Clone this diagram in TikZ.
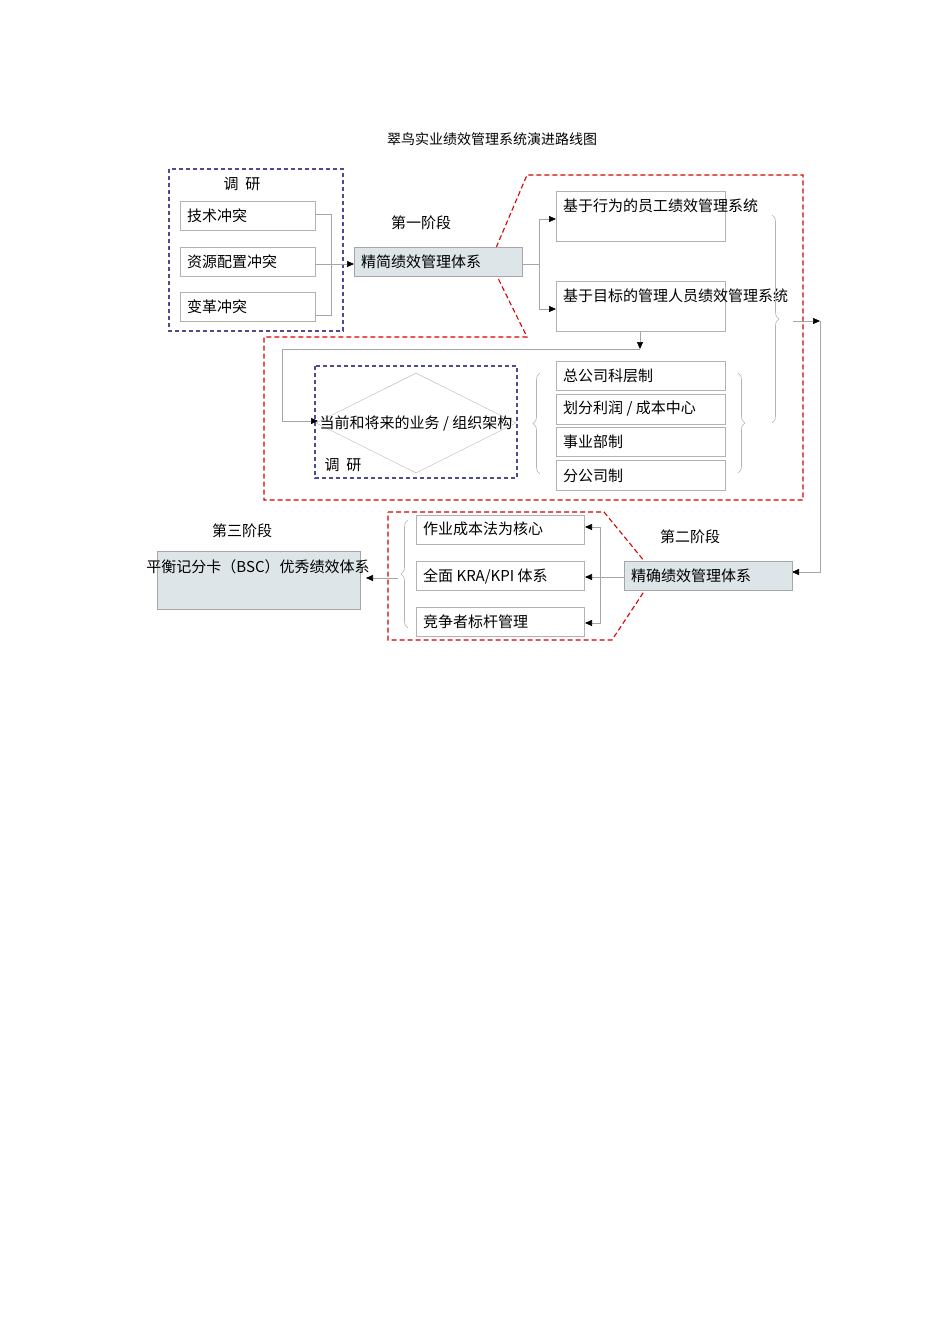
\documentclass[tikz,border=0pt]{standalone}
\usepackage{fontspec}
\setmainfont{Noto Sans CJK SC}
\usetikzlibrary{arrows.meta,decorations.pathreplacing,shapes.geometric}
\begin{document}
\begin{tikzpicture}[x=1pt,y=-1pt,
  txt/.style={font=\fontsize{15}{18}\selectfont,inner sep=0pt},
  gbox/.style={draw=gray!60,line width=0.6pt},
  stagebox/.style={draw=gray!70,fill=cyan!20!gray!25,line width=0.6pt},
  bluedash/.style={draw=blue!40!black!70,dashed,line width=1.1pt,dash pattern=on 4pt off 3pt},
  reddash/.style={draw=red!85!black,line width=1.1pt,dash pattern=on 5pt off 3pt},
  conn/.style={draw=gray!70,line width=0.6pt},
  arr/.style={conn,-{Triangle[length=7pt,width=6pt,fill=black,color=black]}},
  brc/.style={draw=gray!60,line width=0.6pt,decorate,decoration={brace,amplitude=7pt}}]
\useasboundingbox (0,0) rectangle (950,1344);
\node[font=\fontsize{14}{16}\selectfont] (title) at (492,139) {翠鸟实业绩效管理系统演进路线图};
% research box 1
\draw[bluedash] (169,169) rectangle (343,331);
\node[txt] (dy1) at (242,184) {调\ \ 研};
\draw[gbox] (180,201) rectangle (315,230); \node[txt,anchor=west] (a1) at (187,216) {技术冲突};
\draw[gbox] (180,247) rectangle (315,276); \node[txt,anchor=west] (a2) at (187,262) {资源配置冲突};
\draw[gbox] (180,292) rectangle (315,321); \node[txt,anchor=west] (a3) at (187,307) {变革冲突};
\draw[conn] (315,214) -- (331,214) -- (331,315) -- (315,315);
% stage 1
\draw[reddash] (490,262) -- (527,175) -- (803,175) -- (803,500) -- (264,500) -- (264,337) -- (527,337) -- cycle;
\draw[stagebox] (354,247) rectangle (522,276);
\node[txt,anchor=west] (s1) at (361,262) {精简绩效管理体系};
\coordinate (s1w) at (354,264);
\coordinate (s1e) at (522,264);
\draw[arr] (315,264) -- (s1w);
\node[txt] (st1) at (421,223) {第一阶段};
\draw[gbox] (556,191) rectangle (725,241); \node[txt,anchor=west] (b1) at (563,206) {基于行为的员工绩效管理系统};
\draw[gbox] (556,281) rectangle (725,331); \node[txt,anchor=west] (b2) at (563,296) {基于目标的管理人员绩效管理系统};
\coordinate (b1w) at (556,219); \coordinate (b2w) at (556,309);
\draw[conn] (s1e) -- (539,264);
\draw[arr] (539,264) |- (b1w);
\draw[arr] (539,264) |- (b2w);
\coordinate (b2s) at (640,331); \coordinate (dn) at (640,349);
\draw[arr] (b2s) -- (dn);
% diamond
\draw[bluedash] (315,366) rectangle (517,478);
\node[diamond,draw=gray!50,line width=0.5pt,minimum width=200pt,minimum height=100pt,inner sep=0pt] (dia) at (416,423) {};
\node[txt] (diat) at (416,423) {当前和将来的业务 / 组织架构};
\node[txt] (dy2) at (343,465) {调\ \ 研};
\coordinate (diaw) at (318,421);
\draw[conn] (dn) -- (282,349) -- (282,421);
\draw[arr] (282,421) -- (diaw);
\draw[gbox] (556,361) rectangle (725,390); \node[txt,anchor=west] (c1) at (563,376) {总公司科层制};
\draw[gbox] (556,394) rectangle (725,424); \node[txt,anchor=west] (c2) at (563,409) {划分利润 / 成本中心};
\draw[gbox] (556,427) rectangle (725,456); \node[txt,anchor=west] (c3) at (563,442) {事业部制};
\draw[gbox] (556,460) rectangle (725,490); \node[txt,anchor=west] (c4) at (563,476) {分公司制};
\draw[brc] (540,474) -- (540,373);
\draw[brc] (738,373) -- (738,473);
\draw[brc] (772,215) -- (772,423);
\coordinate (bt) at (793,321); \coordinate (rt) at (820,321);
\draw[arr] (bt) -- (rt);
% stage 2
\draw[stagebox] (624,561) rectangle (792,590);
\node[txt,anchor=west] (s2) at (631,576) {精确绩效管理体系};
\coordinate (s2e) at (792,572);
\draw[arr] (rt) -- (820,572) -- (s2e);
\node[txt] (st2) at (690,537) {第二阶段};
\draw[reddash] (388,512) -- (604,512) -- (645,562) -- (645,590) -- (612,640) -- (388,640) -- cycle;
\draw[stagebox,draw=none] (624,561) rectangle (792,590);
\draw[draw=gray!70,line width=0.6pt] (624,561) rectangle (792,590);
\node[txt,anchor=west] at (631,576) {精确绩效管理体系};
\draw[gbox] (416,515) rectangle (584,544); \node[txt,anchor=west] (d1) at (423,529) {作业成本法为核心};
\draw[gbox] (416,561) rectangle (584,590); \node[txt,anchor=west] (d2) at (423,576) {全面 KRA/KPI 体系};
\draw[gbox] (416,607) rectangle (584,636); \node[txt,anchor=west] (d3) at (423,622) {竞争者标杆管理};
\coordinate (s2w) at (624,577);
\draw[conn] (s2w) -- (600,577);
\draw[arr] (600,577) -- (585,577);
\draw[arr] (600,577) |- (585,527);
\draw[arr] (600,577) |- (585,623);
\draw[brc] (408,628) -- (408,520);
% stage 3
\draw[stagebox] (157,551) rectangle (360,609);
\node[txt] (s3) at (258,567) {平衡记分卡（BSC）优秀绩效体系};
\node[txt] (st3) at (242,531) {第三阶段};
\draw[arr] (398,578) -- (366,578);
\end{tikzpicture}
\end{document}
